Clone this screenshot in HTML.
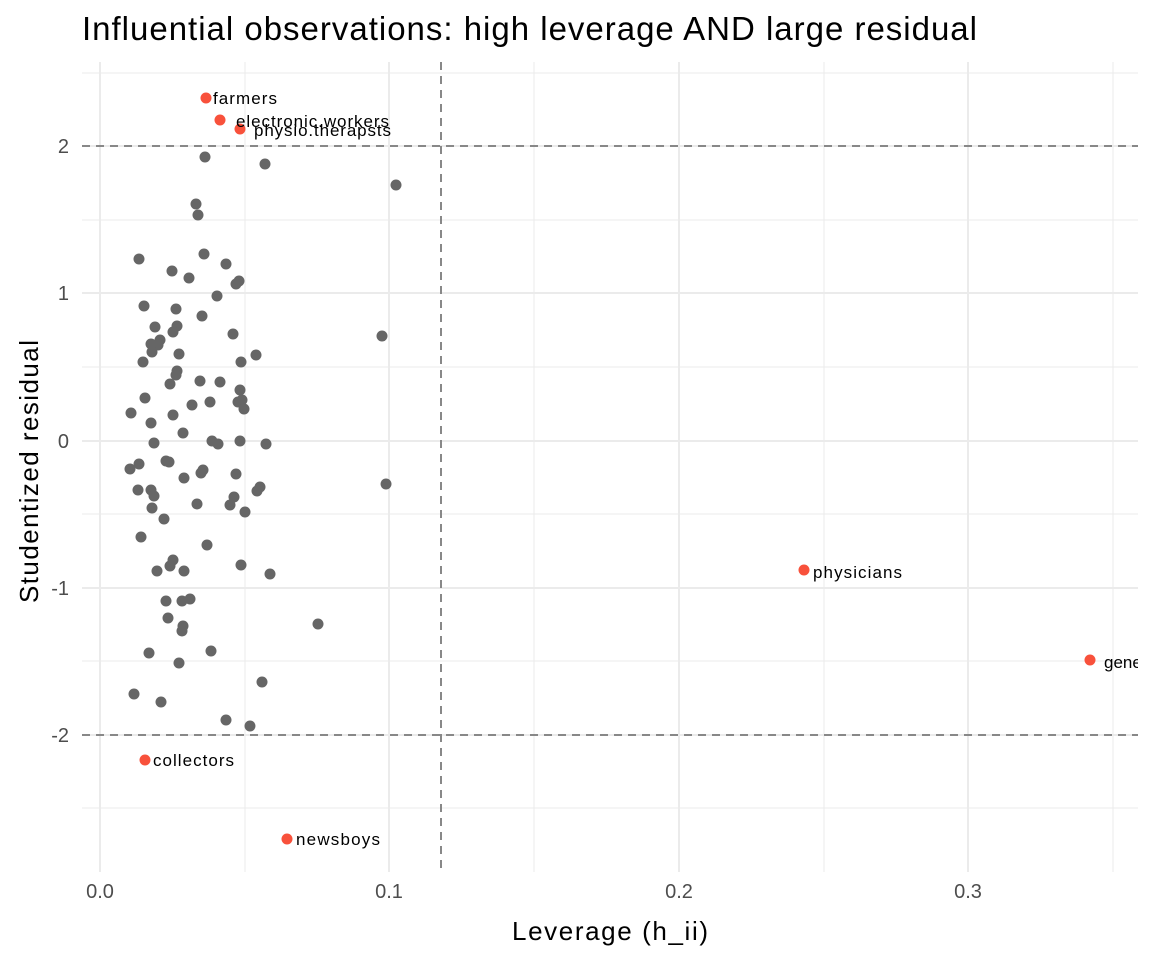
<!DOCTYPE html>
<html><head><meta charset="utf-8"><style>body{margin:0;background:#fff}svg{display:block}</style></head><body>
<svg width="1152" height="960" xmlns="http://www.w3.org/2000/svg" font-family="Liberation Sans, sans-serif">
<rect width="1152" height="960" fill="#fff"/>
<g stroke="#EBEBEB" stroke-width="1">
<line x1="245" y1="62" x2="245" y2="872"/><line x1="534" y1="62" x2="534" y2="872"/><line x1="824" y1="62" x2="824" y2="872"/><line x1="1113" y1="62" x2="1113" y2="872"/>
<line x1="82" y1="73" x2="1138" y2="73"/><line x1="82" y1="220" x2="1138" y2="220"/><line x1="82" y1="367" x2="1138" y2="367"/><line x1="82" y1="514" x2="1138" y2="514"/><line x1="82" y1="661" x2="1138" y2="661"/><line x1="82" y1="808" x2="1138" y2="808"/>
</g>
<g stroke="#EBEBEB" stroke-width="2">
<line x1="100" y1="62" x2="100" y2="872"/><line x1="389" y1="62" x2="389" y2="872"/><line x1="679" y1="62" x2="679" y2="872"/><line x1="968" y1="62" x2="968" y2="872"/>
<line x1="82" y1="146" x2="1138" y2="146"/><line x1="82" y1="293" x2="1138" y2="293"/><line x1="82" y1="441" x2="1138" y2="441"/><line x1="82" y1="588" x2="1138" y2="588"/><line x1="82" y1="735" x2="1138" y2="735"/>
</g>
<g stroke="#888" stroke-width="2" stroke-dasharray="8,6">
<line x1="82" y1="146" x2="1138" y2="146"/><line x1="82" y1="735" x2="1138" y2="735"/><line x1="441" y1="62" x2="441" y2="872"/>
</g>
<g fill="#666">
<circle cx="205" cy="157" r="5.5"/><circle cx="265" cy="164" r="5.5"/><circle cx="396" cy="185" r="5.5"/><circle cx="196" cy="204" r="5.5"/><circle cx="198" cy="215" r="5.5"/><circle cx="204" cy="254" r="5.5"/><circle cx="139" cy="259" r="5.5"/><circle cx="226" cy="264" r="5.5"/><circle cx="172" cy="271" r="5.5"/><circle cx="239" cy="281" r="5.5"/><circle cx="189" cy="278" r="5.5"/><circle cx="217" cy="296" r="5.5"/><circle cx="236" cy="284" r="5.5"/><circle cx="144" cy="306" r="5.5"/><circle cx="176" cy="309" r="5.5"/><circle cx="202" cy="316" r="5.5"/><circle cx="155" cy="327" r="5.5"/><circle cx="177" cy="326" r="5.5"/><circle cx="233" cy="334" r="5.5"/><circle cx="382" cy="336" r="5.5"/><circle cx="160" cy="340" r="5.5"/><circle cx="158" cy="345" r="5.5"/><circle cx="151" cy="344" r="5.5"/><circle cx="173" cy="332" r="5.5"/><circle cx="152" cy="352" r="5.5"/><circle cx="179" cy="354" r="5.5"/><circle cx="143" cy="362" r="5.5"/><circle cx="241" cy="362" r="5.5"/><circle cx="256" cy="355" r="5.5"/><circle cx="177" cy="371" r="5.5"/><circle cx="176" cy="375" r="5.5"/><circle cx="220" cy="382" r="5.5"/><circle cx="200" cy="381" r="5.5"/><circle cx="170" cy="384" r="5.5"/><circle cx="240" cy="390" r="5.5"/><circle cx="145" cy="398" r="5.5"/><circle cx="242" cy="400" r="5.5"/><circle cx="210" cy="402" r="5.5"/><circle cx="238" cy="402" r="5.5"/><circle cx="192" cy="405" r="5.5"/><circle cx="244" cy="409" r="5.5"/><circle cx="131" cy="413" r="5.5"/><circle cx="173" cy="415" r="5.5"/><circle cx="151" cy="423" r="5.5"/><circle cx="183" cy="433" r="5.5"/><circle cx="154" cy="443" r="5.5"/><circle cx="212" cy="441" r="5.5"/><circle cx="240" cy="441" r="5.5"/><circle cx="218" cy="444" r="5.5"/><circle cx="266" cy="444" r="5.5"/><circle cx="130" cy="469" r="5.5"/><circle cx="139" cy="464" r="5.5"/><circle cx="166" cy="461" r="5.5"/><circle cx="169" cy="462" r="5.5"/><circle cx="203" cy="470" r="5.5"/><circle cx="236" cy="474" r="5.5"/><circle cx="260" cy="487" r="5.5"/><circle cx="201" cy="473" r="5.5"/><circle cx="184" cy="478" r="5.5"/><circle cx="138" cy="490" r="5.5"/><circle cx="151" cy="490" r="5.5"/><circle cx="154" cy="496" r="5.5"/><circle cx="386" cy="484" r="5.5"/><circle cx="257" cy="491" r="5.5"/><circle cx="234" cy="497" r="5.5"/><circle cx="230" cy="505" r="5.5"/><circle cx="245" cy="512" r="5.5"/><circle cx="164" cy="519" r="5.5"/><circle cx="197" cy="504" r="5.5"/><circle cx="152" cy="508" r="5.5"/><circle cx="141" cy="537" r="5.5"/><circle cx="207" cy="545" r="5.5"/><circle cx="173" cy="560" r="5.5"/><circle cx="170" cy="566" r="5.5"/><circle cx="157" cy="571" r="5.5"/><circle cx="184" cy="571" r="5.5"/><circle cx="241" cy="565" r="5.5"/><circle cx="270" cy="574" r="5.5"/><circle cx="166" cy="601" r="5.5"/><circle cx="190" cy="599" r="5.5"/><circle cx="182" cy="601" r="5.5"/><circle cx="168" cy="618" r="5.5"/><circle cx="318" cy="624" r="5.5"/><circle cx="183" cy="626" r="5.5"/><circle cx="182" cy="631" r="5.5"/><circle cx="149" cy="653" r="5.5"/><circle cx="211" cy="651" r="5.5"/><circle cx="179" cy="663" r="5.5"/><circle cx="262" cy="682" r="5.5"/><circle cx="134" cy="694" r="5.5"/><circle cx="161" cy="702" r="5.5"/><circle cx="226" cy="720" r="5.5"/><circle cx="250" cy="726" r="5.5"/>
</g>
<g fill="#F8513B">
<circle cx="206" cy="98" r="5.5"/><circle cx="220" cy="120" r="5.5"/><circle cx="240" cy="129" r="5.5"/><circle cx="804" cy="570" r="5.5"/><circle cx="1090" cy="660" r="5.5"/><circle cx="145" cy="760" r="5.5"/><circle cx="287" cy="839" r="5.5"/>
</g>
<g font-size="17" fill="#000">
<text x="213" y="104" textLength="64">farmers</text><text x="236" y="127" textLength="153">electronic.workers</text><text x="254" y="136" textLength="137">physio.therapsts</text><text x="813" y="578" textLength="89">physicians</text><text x="1104" y="668">general.managers</text><text x="153" y="766" textLength="81">collectors</text><text x="296" y="845" textLength="84">newsboys</text>
</g>
<rect x="1138" y="62" width="14" height="820" fill="#fff"/>
<g font-size="20" fill="#4D4D4D" text-anchor="end">
<text x="69" y="153">2</text><text x="69" y="300">1</text><text x="69" y="448">0</text><text x="69" y="595">-1</text><text x="69" y="742">-2</text>
</g>
<g font-size="20" fill="#4D4D4D" text-anchor="middle">
<text x="100" y="898">0.0</text><text x="389" y="898">0.1</text><text x="679" y="898">0.2</text><text x="968" y="898">0.3</text>
</g>
<text x="512" y="940" font-size="26" textLength="196">Leverage (h_ii)</text>
<text transform="translate(38,603) rotate(-90)" font-size="26" textLength="263">Studentized residual</text>
<text x="82" y="40" font-size="33" textLength="895">Influential observations: high leverage AND large residual</text>
</svg>
</body></html>
